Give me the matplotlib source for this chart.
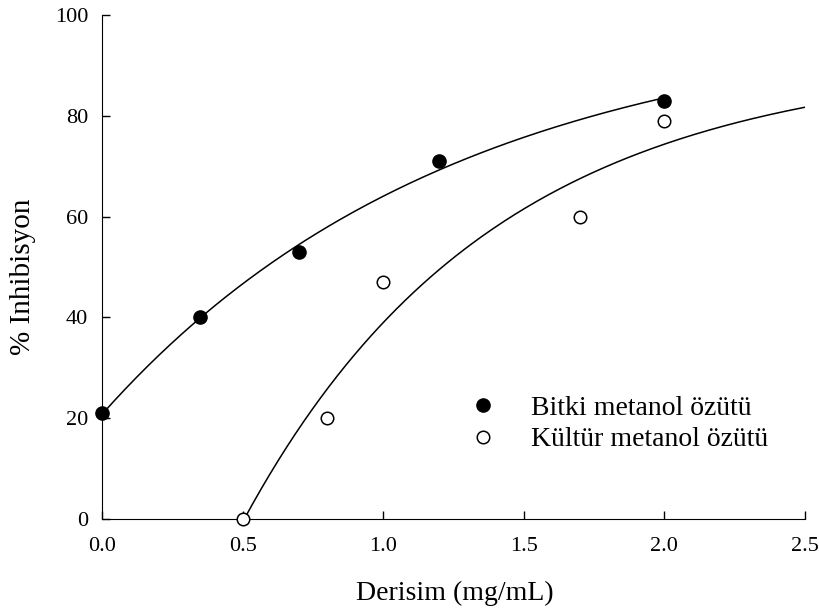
import numpy as np
import matplotlib
matplotlib.use("Agg")
import matplotlib.pyplot as plt

plt.rcParams['font.family'] = ['Liberation Serif', 'DejaVu Serif']

bitki_x = [0.0, 0.35, 0.7, 1.2, 2.0]
bitki_y = [21, 40, 53, 71, 83]
kultur_x = [0.5, 0.8, 1.0, 1.7, 2.0]
kultur_y = [0, 20, 47, 60, 79]

xticks = [0.0, 0.5, 1.0, 1.5, 2.0, 2.5]
yticks = [0, 20, 40, 60, 80, 100]


def fit_exp_rise(x, y):
    # y = y0 + a*(1 - exp(-b x)), least squares over b grid
    x = np.asarray(x, float); y = np.asarray(y, float)
    best = None
    for b in np.linspace(0.05, 5, 2000):
        A = np.column_stack([np.ones_like(x), 1 - np.exp(-b * x)])
        coef, *_ = np.linalg.lstsq(A, y, rcond=None)
        r = np.sum((A @ coef - y) ** 2)
        if best is None or r < best[0]:
            best = (r, b, coef)
    _, b, (y0, a) = best
    return lambda t: y0 + a * (1 - np.exp(-b * t))


fb = fit_exp_rise(bitki_x, bitki_y)
fk = fit_exp_rise(kultur_x, kultur_y)

fig = plt.figure(figsize=(8.19, 6.13), dpi=100)
ax = fig.add_axes([102/819, 94/613, 703/819, 504/613])

tb = np.linspace(0, 2.0, 200)
ax.plot(tb, fb(tb), color='black', lw=1.1, zorder=2)
tk_full = np.linspace(0, 2.5, 2000)
yk = fk(tk_full)
start = tk_full[np.argmax(yk >= 0)]
tk = np.linspace(start, 2.5, 200)
ax.plot(tk, fk(tk), color='black', lw=1.1, zorder=2)

ax.plot(bitki_x, bitki_y, 'o', color='black', ms=9.5, clip_on=False, zorder=3,
        label='Bitki metanol özütü')
ax.plot(kultur_x, kultur_y, 'o', mfc='white', mec='black', mew=1.1, ms=9,
        clip_on=False, zorder=3, label='Kültür metanol özütü')

ax.set_xlim(0, 2.5)
ax.set_ylim(0, 100)
ax.set_xticks(xticks)
ax.set_xticklabels([f'{v:.1f}' for v in xticks])
ax.set_yticks(yticks)
ax.spines['top'].set_visible(False)
ax.spines['right'].set_visible(False)
ax.tick_params(axis='x', direction='in', length=6, width=1, labelsize=16, pad=13)
ax.tick_params(axis='y', direction='in', length=6, width=1, labelsize=16, pad=10)
ax.set_xlabel('Derisim (mg/mL)', fontsize=20)
ax.set_ylabel('% Inhibisyon', fontsize=21)
ax.xaxis.set_label_coords(0.502, -0.123)
ax.yaxis.set_label_coords(-0.094, 0.48)

ax.legend(loc='upper left', bbox_to_anchor=(0.503, 0.273), frameon=False,
          fontsize=20, handletextpad=1.23, borderpad=0, labelspacing=0.22,
          handlelength=1.0)

fig.savefig('out.png', dpi=100)
